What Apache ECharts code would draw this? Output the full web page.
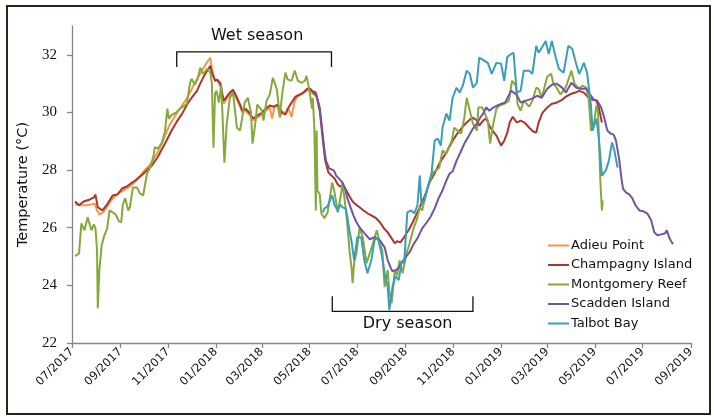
<!DOCTYPE html>
<html>
<head>
<meta charset="utf-8">
<script src="https://cdn.jsdelivr.net/npm/echarts@6/dist/echarts.min.js"></script>
<style>
html,body{margin:0;padding:0;background:#ffffff;}
#chart{width:714px;height:417px;}
</style>
</head>
<body>
<div id="chart"></div>
<script>
// ---------------- DATA ----------------
const seriesNames = ['Adieu Point', 'Champagny Island', 'Montgomery Reef', 'Scadden Island', 'Talbot Bay'];
const seriesColors = ['#F79646', '#A8372F', '#86A93C', '#7353A2', '#3A9DB9'];

const xTickLabels = ['07/2017','09/2017','11/2017','01/2018','03/2018','05/2018','07/2018','09/2018','11/2018','01/2019','03/2019','05/2019','07/2019','09/2019'];
const yTickValues = [22, 24, 26, 28, 30, 32];
const yAxisMin = 22;
const yAxisMax = 33;

const wetSeason = ['2017-11-12', '2018-05-29'];
const drySeason = ['2018-05-30', '2018-11-26'];

const adieuPoint = [
['2017-07-05',26.81],['2017-07-11',26.78],['2017-07-19',26.78],['2017-07-26',26.81],['2017-07-30',26.84],
['2017-08-02',26.60],['2017-08-05',26.46],['2017-08-10',26.53],['2017-08-15',26.74],['2017-08-20',26.95],
['2017-08-26',27.12],['2017-08-31',27.22],['2017-09-07',27.33],['2017-09-13',27.43],['2017-09-20',27.60],
['2017-09-26',27.80],['2017-10-02',28.00],['2017-10-09',28.20],['2017-10-15',28.45],['2017-10-22',28.80],
['2017-10-28',29.20],['2017-11-03',29.58],['2017-11-10',29.88],['2017-11-16',30.13],['2017-11-23',30.41],
['2017-11-29',30.69],['2017-12-05',31.03],['2017-12-12',31.34],['2017-12-18',31.62],['2017-12-22',31.79],
['2017-12-25',31.90],['2017-12-27',31.52],['2017-12-31',31.10],['2018-01-03',31.10],['2018-01-07',30.89],
['2018-01-11',30.30],['2018-01-15',30.48],['2018-01-19',30.62],['2018-01-23',30.72],['2018-01-27',30.51],
['2018-02-01',30.20],['2018-02-04',29.99],['2018-02-08',30.06],['2018-02-13',29.92],['2018-02-18',29.72],
['2018-02-23',29.82],['2018-03-01',29.92],['2018-03-06',30.06],['2018-03-11',30.17],['2018-03-14',29.79],
['2018-03-17',30.20],['2018-03-21',30.24],['2018-03-24',29.82],['2018-03-27',30.03],['2018-04-01',29.96],
['2018-04-04',30.13],['2018-04-08',29.85],['2018-04-12',30.41],['2018-04-17',30.58],['2018-04-22',30.65],
['2018-04-27',30.75],['2018-05-02',30.75],['2018-05-06',30.62]
];

const champagnyIsland = [
['2017-07-05',26.91],['2017-07-10',26.78],['2017-07-16',26.91],['2017-07-24',26.98],['2017-07-29',27.05],
['2017-07-31',27.15],['2017-08-03',26.71],['2017-08-09',26.60],['2017-08-15',26.81],['2017-08-22',27.12],
['2017-08-28',27.15],['2017-09-03',27.36],['2017-09-09',27.43],['2017-09-16',27.57],['2017-09-22',27.68],
['2017-09-29',27.84],['2017-10-05',28.00],['2017-10-11',28.15],['2017-10-18',28.42],['2017-10-24',28.72],
['2017-10-31',29.08],['2017-11-06',29.40],['2017-11-12',29.68],['2017-11-19',29.96],['2017-11-25',30.27],
['2017-12-01',30.51],['2017-12-08',30.75],['2017-12-12',31.00],['2017-12-17',31.27],['2017-12-21',31.45],
['2017-12-25',31.62],['2017-12-27',31.38],['2017-12-31',31.10],['2018-01-03',31.14],['2018-01-07',31.00],
['2018-01-11',30.41],['2018-01-15',30.55],['2018-01-19',30.69],['2018-01-23',30.79],['2018-01-27',30.58],
['2018-02-01',30.27],['2018-02-04',30.06],['2018-02-08',30.13],['2018-02-13',29.99],['2018-02-18',29.79],
['2018-02-23',29.89],['2018-03-01',29.99],['2018-03-06',30.13],['2018-03-11',30.24],['2018-03-16',30.20],
['2018-03-21',30.27],['2018-03-27',29.99],['2018-03-31',29.92],['2018-04-03',30.13],['2018-04-08',30.34],
['2018-04-13',30.55],['2018-04-18',30.62],['2018-04-23',30.69],['2018-04-28',30.82],['2018-05-02',30.82],
['2018-05-06',30.69],['2018-05-10',30.55],['2018-05-14',30.06],['2018-05-18',29.02],['2018-05-21',28.33],
['2018-05-25',27.92],['2018-05-29',27.81],['2018-06-02',27.71],['2018-06-06',27.50],['2018-06-09',27.43],
['2018-06-13',27.47],['2018-06-17',27.29],['2018-06-21',27.09],['2018-06-25',26.91],['2018-06-29',26.81],
['2018-07-04',26.71],['2018-07-09',26.60],['2018-07-14',26.50],['2018-07-19',26.43],['2018-07-25',26.33],
['2018-07-30',26.19],['2018-08-04',25.98],['2018-08-09',25.84],['2018-08-14',25.63],['2018-08-18',25.46],
['2018-08-21',25.53],['2018-08-25',25.49],['2018-08-29',25.63],['2018-09-02',25.81],['2018-09-06',25.98],
['2018-09-10',26.19],['2018-09-14',26.43],['2018-09-19',26.71],['2018-09-24',27.02],['2018-09-28',27.29],
['2018-10-01',27.54],['2018-10-05',27.74],['2018-10-10',27.99],['2018-10-14',28.23],['2018-10-19',28.44],
['2018-10-23',28.61],['2018-10-27',28.82],['2018-10-31',29.02],['2018-11-05',29.23],['2018-11-09',29.37],
['2018-11-14',29.54],['2018-11-18',29.65],['2018-11-22',29.75],['2018-11-26',29.82],['2018-12-01',29.72],
['2018-12-04',29.54],['2018-12-09',29.72],['2018-12-13',29.79],['2018-12-17',29.54],['2018-12-21',29.37],
['2018-12-26',29.20],['2019-01-01',28.85],['2019-01-05',29.02],['2019-01-09',29.30],['2019-01-12',29.65],
['2019-01-16',29.85],['2019-01-21',29.65],['2019-01-26',29.72],['2019-01-31',29.65],['2019-02-06',29.47],
['2019-02-11',29.34],['2019-02-15',29.30],['2019-02-18',29.65],['2019-02-23',29.99],['2019-03-01',30.17],
['2019-03-07',30.30],['2019-03-13',30.34],['2019-03-20',30.44],['2019-03-25',30.55],['2019-04-01',30.65],
['2019-04-06',30.69],['2019-04-11',30.75],['2019-04-17',30.69],['2019-04-23',30.51],['2019-04-28',30.44],
['2019-05-03',30.41],['2019-05-06',30.17],['2019-05-10',29.65]
];

const montgomeryReef = [
['2017-07-05',25.01],['2017-07-10',25.11],['2017-07-13',26.15],['2017-07-17',25.91],['2017-07-21',26.36],
['2017-07-24',26.08],['2017-07-26',25.91],['2017-07-29',26.12],['2017-07-31',25.98],['2017-08-02',25.22],
['2017-08-03',23.21],['2017-08-05',24.53],['2017-08-08',25.39],['2017-08-11',25.70],['2017-08-15',25.98],
['2017-08-18',26.60],['2017-08-22',26.53],['2017-08-26',26.46],['2017-08-30',26.22],['2017-09-02',26.19],
['2017-09-04',26.81],['2017-09-07',27.02],['2017-09-11',26.60],['2017-09-13',26.71],['2017-09-17',27.40],
['2017-09-22',27.40],['2017-09-26',27.19],['2017-09-30',27.12],['2017-10-05',27.88],['2017-10-09',28.09],
['2017-10-13',28.45],['2017-10-15',28.80],['2017-10-19',28.75],['2017-10-24',28.95],['2017-10-28',29.35],
['2017-10-31',30.13],['2017-11-02',29.79],['2017-11-06',29.92],['2017-11-11',29.99],['2017-11-16',30.13],
['2017-11-20',30.20],['2017-11-25',30.30],['2017-11-29',31.03],['2017-12-01',31.17],['2017-12-05',30.96],
['2017-12-09',31.17],['2017-12-12',31.55],['2017-12-16',31.34],['2017-12-21',31.52],['2017-12-25',31.38],
['2017-12-27',31.00],['2017-12-29',28.78],['2017-12-31',30.65],['2018-01-02',30.75],['2018-01-05',30.34],
['2018-01-08',30.96],['2018-01-12',28.26],['2018-01-15',29.61],['2018-01-19',30.51],['2018-01-23',30.69],
['2018-01-25',30.69],['2018-01-28',29.47],['2018-02-01',29.37],['2018-02-07',30.34],['2018-02-11',30.51],
['2018-02-15',29.99],['2018-02-17',28.92],['2018-02-21',29.72],['2018-02-23',30.27],['2018-03-01',30.06],
['2018-03-03',29.72],['2018-03-07',30.41],['2018-03-11',30.62],['2018-03-15',31.20],['2018-03-20',30.82],
['2018-03-24',29.89],['2018-03-27',30.65],['2018-03-31',31.38],['2018-04-03',31.14],['2018-04-08',31.10],
['2018-04-12',31.45],['2018-04-16',31.10],['2018-04-21',31.03],['2018-04-25',31.10],['2018-04-27',31.27],
['2018-05-01',30.75],['2018-05-04',30.13],['2018-05-05',30.51],['2018-05-07',29.54],['2018-05-09',26.60],
['2018-05-10',29.37],['2018-05-11',27.29],['2018-05-14',27.16],['2018-05-16',26.50],['2018-05-20',26.33],
['2018-05-24',26.53],['2018-05-29',27.40],['2018-05-30',27.57],['2018-06-02',27.22],['2018-06-06',26.53],
['2018-06-11',27.29],['2018-06-12',27.57],['2018-06-15',26.95],['2018-06-18',26.19],['2018-06-21',25.22],
['2018-06-24',24.53],['2018-06-25',24.08],['2018-06-27',24.80],['2018-06-30',25.11],['2018-07-04',26.01],
['2018-07-08',25.67],['2018-07-13',24.77],['2018-07-17',25.11],['2018-07-21',25.46],['2018-07-26',25.91],
['2018-07-30',25.46],['2018-08-02',25.22],['2018-08-05',23.94],['2018-08-09',24.53],['2018-08-11',23.76],
['2018-08-14',23.38],['2018-08-18',24.53],['2018-08-21',24.35],['2018-08-24',24.87],['2018-08-28',24.42],
['2018-09-02',25.11],['2018-09-06',25.46],['2018-09-11',25.98],['2018-09-15',26.26],['2018-09-19',26.71],
['2018-09-22',26.60],['2018-09-28',27.29],['2018-10-01',27.54],['2018-10-06',27.92],['2018-10-10',27.99],
['2018-10-14',28.09],['2018-10-18',28.68],['2018-10-23',28.57],['2018-10-27',28.85],['2018-10-30',29.02],
['2018-11-02',29.47],['2018-11-06',29.37],['2018-11-11',29.27],['2018-11-15',29.82],['2018-11-18',30.51],
['2018-11-22',30.06],['2018-11-26',29.61],['2018-12-01',29.37],['2018-12-03',30.17],['2018-12-08',30.17],
['2018-12-15',29.72],['2018-12-18',28.92],['2018-12-21',29.47],['2018-12-26',30.13],['2018-12-30',30.24],
['2019-01-05',30.30],['2019-01-11',30.41],['2019-01-15',31.10],['2019-01-20',30.93],['2019-01-22',30.30],
['2019-01-26',30.06],['2019-01-30',30.41],['2019-02-06',30.20],['2019-02-10',30.41],['2019-02-15',30.86],
['2019-02-18',30.82],['2019-02-22',30.51],['2019-03-01',31.24],['2019-03-06',31.34],['2019-03-09',31.00],
['2019-03-13',30.86],['2019-03-18',30.62],['2019-03-25',30.89],['2019-04-01',31.45],['2019-04-05',31.00],
['2019-04-11',30.82],['2019-04-15',30.93],['2019-04-20',30.86],['2019-04-23',30.51],['2019-04-26',29.37],
['2019-04-30',29.65],['2019-05-03',30.24],['2019-05-05',30.06],['2019-05-08',27.64],['2019-05-10',26.60],
['2019-05-11',26.95]
];

const scaddenIsland = [
['2018-05-05',30.75],['2018-05-09',30.69],['2018-05-14',30.17],['2018-05-18',29.20],['2018-05-20',28.68],
['2018-05-22',28.33],['2018-05-26',28.06],['2018-06-01',27.99],['2018-06-04',27.81],['2018-06-11',27.61],
['2018-06-15',27.40],['2018-06-18',27.05],['2018-06-22',26.74],['2018-06-26',26.43],['2018-06-30',26.19],
['2018-07-04',26.01],['2018-07-10',25.81],['2018-07-17',25.60],['2018-07-23',25.67],['2018-07-30',25.56],
['2018-08-05',25.32],['2018-08-09',24.87],['2018-08-13',24.60],['2018-08-15',24.49],['2018-08-19',24.53],
['2018-08-23',24.60],['2018-08-27',24.80],['2018-09-01',24.98],['2018-09-06',25.15],['2018-09-11',25.43],
['2018-09-16',25.63],['2018-09-22',25.98],['2018-09-28',26.19],['2018-10-03',26.39],['2018-10-08',26.67],
['2018-10-13',27.02],['2018-10-18',27.29],['2018-10-23',27.64],['2018-10-27',27.88],['2018-10-31',27.95],
['2018-11-05',28.33],['2018-11-10',28.61],['2018-11-15',28.92],['2018-11-21',29.20],['2018-11-26',29.44],
['2018-12-01',29.61],['2018-12-06',29.85],['2018-12-09',29.96],['2018-12-13',30.17],['2018-12-17',30.06],
['2018-12-22',30.17],['2018-12-27',30.24],['2019-01-01',30.30],['2019-01-06',30.34],['2019-01-10',30.55],
['2019-01-14',30.75],['2019-01-17',30.69],['2019-01-21',30.62],['2019-01-26',30.34],['2019-02-02',30.41],
['2019-02-10',30.48],['2019-02-16',30.58],['2019-02-22',30.51],['2019-03-01',30.82],['2019-03-07',30.96],
['2019-03-13',31.00],['2019-03-20',30.86],['2019-03-25',30.69],['2019-04-01',31.03],['2019-04-07',30.86],
['2019-04-13',30.82],['2019-04-20',30.82],['2019-04-23',30.69],['2019-04-30',30.44],['2019-05-04',30.41],
['2019-05-09',30.17],['2019-05-13',29.82],['2019-05-17',29.37],['2019-05-21',29.27],['2019-05-25',29.23],
['2019-05-28',29.02],['2019-06-01',28.40],['2019-06-04',27.71],['2019-06-06',27.36],['2019-06-10',27.22],
['2019-06-14',27.16],['2019-06-18',27.02],['2019-06-22',26.78],['2019-06-27',26.60],['2019-07-02',26.57],
['2019-07-07',26.50],['2019-07-12',26.26],['2019-07-16',25.84],['2019-07-20',25.74],['2019-07-25',25.77],
['2019-07-30',25.81],['2019-08-01',25.91],['2019-08-04',25.67],['2019-08-06',25.56],['2019-08-09',25.43]
];

const talbotBay = [
['2018-05-18',26.53],['2018-05-20',26.67],['2018-05-24',26.74],['2018-05-28',27.02],['2018-05-30',27.12],
['2018-06-02',26.78],['2018-06-06',26.60],['2018-06-09',26.81],['2018-06-12',26.71],['2018-06-16',26.67],
['2018-06-18',26.43],['2018-06-21',25.91],['2018-06-24',25.46],['2018-06-27',24.87],['2018-07-01',25.67],
['2018-07-06',25.67],['2018-07-10',24.87],['2018-07-14',24.42],['2018-07-19',24.87],['2018-07-23',25.56],
['2018-07-27',25.67],['2018-08-01',25.11],['2018-08-05',24.42],['2018-08-09',23.94],['2018-08-11',23.14],
['2018-08-15',23.94],['2018-08-19',24.32],['2018-08-23',24.18],['2018-08-27',24.84],['2018-08-30',24.77],
['2018-09-03',26.53],['2018-09-08',26.60],['2018-09-12',26.50],['2018-09-16',26.78],['2018-09-19',27.81],
['2018-09-21',26.84],['2018-09-25',26.95],['2018-09-29',27.40],['2018-10-04',27.88],['2018-10-08',29.02],
['2018-10-12',29.09],['2018-10-16',28.85],['2018-10-18',29.47],['2018-10-23',29.96],['2018-10-27',29.72],
['2018-10-31',30.51],['2018-11-05',30.86],['2018-11-09',30.69],['2018-11-13',30.93],['2018-11-18',31.45],
['2018-11-22',31.34],['2018-11-26',30.86],['2018-12-01',31.03],['2018-12-04',31.90],['2018-12-11',31.79],
['2018-12-15',31.72],['2018-12-20',31.34],['2018-12-26',31.72],['2019-01-01',31.69],['2019-01-05',31.10],
['2019-01-09',31.93],['2019-01-14',32.03],['2019-01-17',32.07],['2019-01-21',30.69],['2019-01-26',30.75],
['2019-01-30',31.45],['2019-02-06',31.45],['2019-02-10',31.34],['2019-02-15',32.31],['2019-02-18',32.07],
['2019-02-22',32.24],['2019-02-27',32.48],['2019-03-03',32.03],['2019-03-07',32.48],['2019-03-12',31.90],
['2019-03-16',31.52],['2019-03-22',31.38],['2019-03-28',32.31],['2019-04-02',32.21],['2019-04-07',31.69],
['2019-04-11',31.34],['2019-04-17',31.72],['2019-04-21',31.38],['2019-04-26',30.24],['2019-04-28',29.37],
['2019-05-03',29.79],['2019-05-06',29.13],['2019-05-10',27.81],['2019-05-15',27.99],['2019-05-19',28.33],
['2019-05-23',28.96],['2019-05-26',28.68],['2019-05-30',28.09]
];

const seriesData = [adieuPoint, champagnyIsland, montgomeryReef, scaddenIsland, talbotBay];

// ---------------- HELPERS ----------------
function toTs(s) { const p = s.split('-'); return Date.UTC(+p[0], +p[1] - 1, +p[2]); }
const xTickValues = xTickLabels.map(l => { const p = l.split('/'); return Date.UTC(+p[1], +p[0] - 1, 1); });
function fmtTick(v) {
  const d = new Date(v);
  const m = d.getUTCMonth() + 1;
  return (m < 10 ? '0' + m : '' + m) + '/' + d.getUTCFullYear();
}

const chart = echarts.init(document.getElementById('chart'), null, { renderer: 'canvas' });

const axisColor = '#868686';
const option = {
  animation: false,
  backgroundColor: '#ffffff',
  grid: { left: 72, top: 26, width: 619, height: 317, containLabel: false },
  xAxis: {
    type: 'value',
    min: xTickValues[0],
    max: xTickValues[xTickValues.length - 1],
    axisLine: { show: true, lineStyle: { color: axisColor, width: 1.3 } },
    axisTick: { show: true, customValues: xTickValues, length: 5, lineStyle: { color: axisColor, width: 1.3 } },
    axisLabel: {
      customValues: xTickValues, rotate: 45, margin: 7, formatter: fmtTick,
      fontFamily: 'DejaVu Sans', fontSize: 11.5, color: '#111'
    },
    splitLine: { show: false }
  },
  yAxis: {
    type: 'value',
    min: yAxisMin, max: yAxisMax,
    name: 'Temperature (°C)', nameLocation: 'middle', nameGap: 38,
    nameTextStyle: { fontFamily: 'DejaVu Sans', fontSize: 14.5, color: '#111' },
    axisLine: { show: true, lineStyle: { color: axisColor, width: 1.3 } },
    axisTick: { show: true, customValues: yTickValues, length: 5, lineStyle: { color: axisColor, width: 1.3 } },
    axisLabel: { customValues: yTickValues, margin: 15, fontFamily: 'Liberation Serif', fontSize: 15, color: '#111' },
    splitLine: { show: false }
  },
  legend: {
    orient: 'vertical', left: 543, top: 234,
    icon: 'rect',
    itemWidth: 21, itemHeight: 2, itemGap: 6.5,
    data: seriesNames,
    textStyle: { fontFamily: 'DejaVu Sans', fontSize: 13, color: '#111', padding: [0, 0, 0, -3] }
  },
  series: seriesNames.map((name, i) => ({
    name: name,
    type: 'line',
    symbol: 'none',
    smooth: false,
    color: seriesColors[i],
    lineStyle: { color: seriesColors[i], width: 2 },
    data: seriesData[i].map(p => [toTs(p[0]), p[1]])
  }))
};
chart.setOption(option);

// Season brackets, placed through the chart's own scales
function px(dateStr, temp) { return chart.convertToPixel({ gridIndex: 0 }, [toTs(dateStr), temp]); }
const wetA = px(wetSeason[0], 32.1), wetB = px(wetSeason[1], 32.1);
const dryA = px(drySeason[0], 23.1), dryB = px(drySeason[1], 23.1);
const legLen = 15;
const bracketStyle = { stroke: '#111', lineWidth: 1.3, fill: null };
chart.setOption({
  graphic: [
    { type: 'rect', shape: { x: 7, y: 6, width: 703, height: 408 }, style: { fill: null, stroke: '#2a2318', lineWidth: 2 }, silent: true },
    { type: 'polyline', shape: { points: [[wetA[0], wetA[1] + legLen], [wetA[0], wetA[1]], [wetB[0], wetB[1]], [wetB[0], wetB[1] + legLen]] }, style: bracketStyle },
    { type: 'text', x: (wetA[0] + wetB[0]) / 2 + 3, y: wetA[1] - 16, style: { text: 'Wet season', font: '16px "DejaVu Sans"', fill: '#111', align: 'center', verticalAlign: 'middle' } },
    { type: 'polyline', shape: { points: [[dryA[0], dryA[1] - legLen], [dryA[0], dryA[1]], [dryB[0], dryB[1]], [dryB[0], dryB[1] - legLen]] }, style: bracketStyle },
    { type: 'text', x: (dryA[0] + dryB[0]) / 2 + 5, y: dryA[1] + 13, style: { text: 'Dry season', font: '16px "DejaVu Sans"', fill: '#111', align: 'center', verticalAlign: 'middle' } }
  ]
});
</script>
</body>
</html>
